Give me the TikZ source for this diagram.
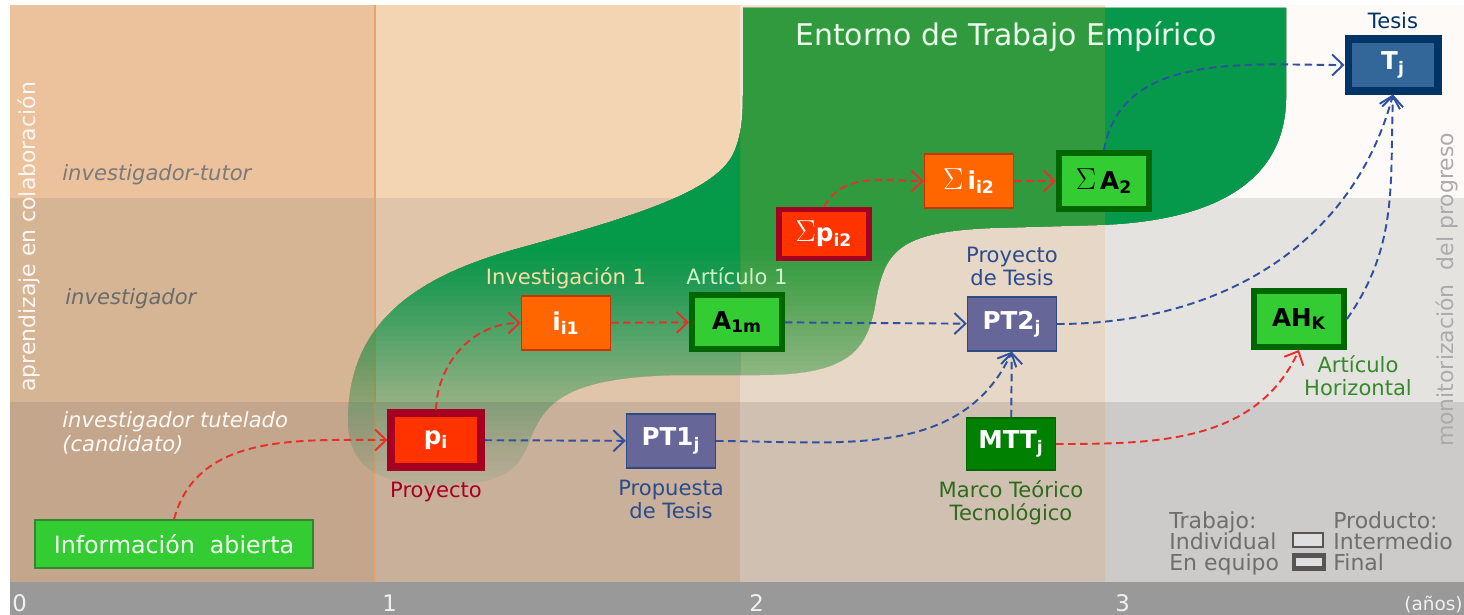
\documentclass[tikz,border=0pt]{standalone}
\usepackage{fontspec}
\setmainfont{DejaVu Sans}
\usetikzlibrary{positioning,arrows.meta}

\definecolor{pred}{HTML}{FF3300}
\definecolor{pdark}{HTML}{A50021}
\definecolor{iorange}{HTML}{FF6600}
\definecolor{iborder}{HTML}{CC3300}
\definecolor{alime}{HTML}{33CC33}
\definecolor{adark}{HTML}{006600}
\definecolor{ptpurple}{HTML}{666699}
\definecolor{ptborder}{HTML}{2F4A80}
\definecolor{mttgreen}{HTML}{008000}
\definecolor{tblue}{HTML}{336699}
\definecolor{tdark}{HTML}{003366}
\definecolor{flowred}{HTML}{E8302A}
\definecolor{flowblue}{HTML}{3050A0}
\definecolor{blobgreen}{HTML}{03994A}
\definecolor{blobwarm}{HTML}{2F9A3E}
\definecolor{txtblue}{HTML}{2B4C8C}
\definecolor{txtgreen}{HTML}{2D6A1A}
\definecolor{ahtxt}{HTML}{348A2A}
\definecolor{invtxt}{HTML}{F5DFA8}
\definecolor{arttxt}{HTML}{CCF7C8}
\definecolor{legtxt}{HTML}{6E6E6E}
\definecolor{legline}{HTML}{555555}
\definecolor{axisbar}{HTML}{999999}
\definecolor{yearline}{HTML}{E3A472}

\newcommand{\boxfont}{\fontsize{14}{16}\selectfont\bfseries}
\newcommand{\sumsign}{{\fontsize{19}{19}\selectfont$\Sigma$}}
\newcommand{\blobpath}{(743,8) -- (1286,8) -- (1286,100)
  .. controls (1284,190) and (1200,222) .. (1097,225) -- (990,228)
  .. controls (900,232) and (885,250) .. (876,300)
  .. controls (868,350) and (850,375) .. (760,375) -- (680,375)
  .. controls (570,377) and (545,400) .. (530,440)
  .. controls (518,470) and (505,485) .. (440,485)
  .. controls (375,485) and (348,465) .. (348,420)
  .. controls (348,320) and (420,275) .. (520,248)
  .. controls (640,215) and (720,190) .. (735,150)
  .. controls (743,130) and (743,110) .. (743,90) -- cycle}
% one layer of the green area, warmer over year 2
\newcommand{\blobfill}[1]{%
  \begin{scope}
    \clip (740,0) rectangle (1105,615);
    \fill[blobwarm, opacity=#1] \blobpath;
  \end{scope}
  \begin{scope}
    \clip (0,0) rectangle (740,615) (1105,0) rectangle (1464,615);
    \fill[blobgreen, opacity=#1] \blobpath;
  \end{scope}}

\tikzset{
  box/.style = {rectangle, inner sep=0pt, minimum width=1.78cm, minimum height=1.08cm, line width=0.8pt, font=\boxfont},
  finalbox/.style = {box, line width=3.4pt, minimum width=1.8cm},
  pbox/.style = {finalbox, line width=4pt, draw=pdark, fill=pred, text=white},
  ibox/.style = {box, draw=iborder, fill=iorange, text=white},
  abox/.style = {finalbox, draw=adark, fill=alime, text=black},
  ptbox/.style = {box, draw=ptborder, fill=ptpurple, text=white},
  mttbox/.style = {box, minimum height=1.04cm, draw=adark, fill=mttgreen, text=white},
  tbox/.style = {finalbox, line width=4pt, minimum height=1.04cm, draw=tdark, fill=tblue, text=white},
  infobox/.style = {rectangle, draw=adark!80, line width=0.8pt, fill=alime, minimum width=5.56cm, minimum height=0.96cm, text=green!5, font=\fontsize{13.5}{16}\selectfont},
  lbl/.style = {inner sep=0pt, align=center, font=\fontsize{12}{13}\selectfont},
  rowlbl/.style = {inner sep=0pt, align=left, font=\fontsize{12}{13.6}\selectfont\itshape},
  axislbl/.style = {inner sep=0pt, text=white!94!black, font=\fontsize{13}{15}\selectfont},
  legbox/.style = {rectangle, inner sep=0pt, draw=legline, fill=black!13, minimum width=0.6cm, minimum height=0.28cm, line width=0.8pt},
  legtext/.style = {inner sep=0pt, align=left, text=legtxt, font=\fontsize{12.5}{12.2}\selectfont},
  flow/.style = {line width=1.1pt, dash pattern=on 1.5mm off 0.9mm, -{Straight Barb[length=2.2mm,width=4.2mm]}},
  redflow/.style = {flow, draw=flowred},
  blueflow/.style = {flow, draw=flowblue},
}

\begin{document}
\begin{tikzpicture}[x=0.02cm, y=-0.02cm]
  \fill[white] (0,0) rectangle (1464,615);
  \useasboundingbox (0,0) rectangle (1464,615);

  % years and roles
  \foreach \xa/\xb/\ctop/\cmid/\cbot in {10/375/EBC29C/D6B594/C3A68C, 375/740/F4D5B3/E0C5AA/C8B09B,
      740/1105/F5E4D2/E7D7C6/CFC0B2, 1105/1464/FDFAF7/E5E3E0/CDCBC9}{
    \definecolor{cT}{HTML}{\ctop}
    \definecolor{cM}{HTML}{\cmid}
    \definecolor{cB}{HTML}{\cbot}
    \fill[cT] (\xa,5) rectangle (\xb,198);
    \fill[cM] (\xa,198) rectangle (\xb,402);
    \fill[cB] (\xa,402) rectangle (\xb,582);
  }
  \fill[axisbar] (10,582) rectangle (1464,615);
  \draw[yearline, line width=1.2pt] (375,5) -- (375,582);

  % Entorno de Trabajo Empirico: stacked layers, each reaching a little higher
  \foreach \ya in {490,485,...,250}{
    \pgfmathsetmacro{\tnew}{1-(0.04+0.92*((497-\ya)/242)^1.3)}
    \pgfmathsetmacro{\told}{\ya>489 ? 1 : 1-(0.04+0.92*((492-\ya)/242)^1.3)}
    \pgfmathsetmacro{\op}{1-\tnew/\told}
    \begin{scope}
      \clip (0,0) rectangle (1464,\ya);
      \blobfill{\op}
    \end{scope}
  }
  \node[text=green!8, font=\fontsize{17}{20}\selectfont] (entorno) at (1006,37) {Entorno de Trabajo Empírico};

  \node[rowlbl, text=black!52, anchor=west] (rtutor) at (62,175) {investigador-tutor};
  \node[rowlbl, text=black!58, anchor=west] (rinv) at (65,299) {investigador};
  \node[rowlbl, text=white!95!brown, anchor=north west] (rcand) at (62,411) {investigador tutelado\\(candidato)};
  \node[rotate=90, text=white!94!brown, font=\fontsize{12.5}{14}\selectfont] (colab) at (29,237) {aprendizaje en colaboración};
  \node[rotate=90, text=black!33, font=\fontsize{12.5}{14}\selectfont] (monit) at (1447,290) {monitorización\ \ del progreso};

  \node[axislbl, anchor=west] (y0) at (12,603) {0};
  \node[axislbl, anchor=west] (y1) at (382,603) {1};
  \node[axislbl, anchor=west] (y2) at (749,603) {2};
  \node[axislbl, anchor=west] (y3) at (1115,603) {3};
  \node[axislbl, anchor=west, font=\fontsize{10.5}{12}\selectfont] (anos) at (1404,605) {(años)};

  % products
  \node[infobox] (info) at (174,544) {Información\ \ abierta};
  \node[pbox] (pi) at (436,440) {p\textsubscript{i}};
  \node[ibox] (ii1) at (566,323) {i\textsubscript{i1}};
  \node[abox] (a1m) at (737,322) {A\textsubscript{1m}};
  \node[ptbox] (pt1) at (671,441) {PT1\textsubscript{j}};
  \node[pbox, line width=3.4pt, minimum height=0.98cm] (sp2) at (824,234) {\sumsign p\textsubscript{i2}};
  \node[ibox] (si2) at (969,181) {\sumsign\,i\textsubscript{i2}};
  \node[abox, minimum height=1.12cm] (sa2) at (1104,181) {\sumsign\,A\textsubscript{2}};
  \node[ptbox] (pt2) at (1012,324) {PT2\textsubscript{j}};
  \node[mttbox] (mtt) at (1011,444) {MTT\textsubscript{j}};
  \node[abox, minimum height=1.12cm] (ah) at (1299,319) {AH\textsubscript{K}};
  \node[tbox] (tj) at (1393,65) {T\textsubscript{j}};

  \node[lbl, text=pdark, below=0.22cm of pi] (proy) {Proyecto};
  \node[lbl, text=invtxt, above=0.12cm of ii1] (inv1) {Investigación 1};
  \node[lbl, text=arttxt, above=0.14cm of a1m] (art1) {Artículo 1};
  \node[lbl, text=txtblue, below=0.22cm of pt1] (propt) {Propuesta\\de Tesis};
  \node[lbl, text=txtblue, above=0.2cm of pt2] (proyt) {Proyecto\\de Tesis};
  \node[lbl, text=txtgreen, below=0.2cm of mtt] (marco) {Marco Teórico\\Tecnológico};
  \node[lbl, text=ahtxt, below=0.1cm of ah.south, xshift=1.18cm] (arth) {Artículo\\Horizontal};
  \node[lbl, text=tdark, above=0.12cm of tj] (tesis) {Tesis};

  % flows
  \draw[redflow] (info.north) to[out=75,in=180] (pi.west);
  \draw[redflow] (pi.north) to[out=88,in=180] (ii1.west);
  \draw[redflow] (ii1) -- (a1m);
  \draw[redflow] (sp2.north) to[out=60,in=180] (si2.west);
  \draw[redflow] (si2) -- (sa2);
  \draw[redflow] (mtt.east) to[out=0,in=-115] (ah.south);
  \draw[blueflow] (pi) -- (pt1);
  \draw[blueflow] (pt1.east) to[out=0,in=-115] (pt2.south);
  \draw[blueflow] (mtt) -- (pt2);
  \draw[blueflow] (a1m) -- (pt2);
  \draw[blueflow] (pt2.east) to[out=0,in=-105] (tj.south);
  \draw[blueflow] (ah.east) to[out=55,in=-92] (tj.south);
  \draw[blueflow] (sa2.north) to[out=80,in=180] (tj.west);

  % legend
  \node[legtext, anchor=north west] (trab) at (1169,511) {Trabajo:\\Individual\\En equipo};
  \node[legtext, anchor=north west] (prod) at (1333,511) {Producto:\\Intermedio\\Final};
  \node[legbox] (legint) at (1308,540) {};
  \node[legbox, line width=2.3pt, minimum height=0.26cm] (legfin) at (1309,562) {};
\end{tikzpicture}
\end{document}
